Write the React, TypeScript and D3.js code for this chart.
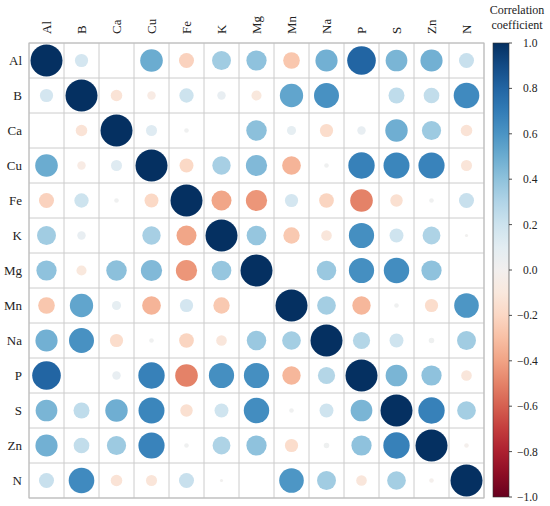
import * as d3 from "d3";
import React from "react";

// variable names, same order for rows and columns
const variables = ["Al", "B", "Ca", "Cu", "Fe", "K", "Mg", "Mn", "Na", "P", "S", "Zn", "N"];

// upper triangle of the correlation matrix (row i, columns i+1..n-1)
const upperAl = [0.17, 0.0, 0.5, -0.22, 0.35, 0.4, -0.27, 0.48, 0.8, 0.46, 0.48, 0.22];
const upperB = [-0.13, -0.07, 0.2, 0.07, -0.1, 0.53, 0.61, 0.0, 0.25, 0.24, 0.64];
const upperCa = [0.12, 0.02, 0.0, 0.41, 0.08, -0.17, 0.07, 0.49, 0.36, -0.13];
const upperCu = [-0.19, 0.33, 0.44, -0.34, 0.02, 0.68, 0.66, 0.67, -0.12];
const upperFe = [-0.39, -0.44, 0.17, -0.21, -0.5, -0.15, 0.02, 0.22];
const upperK = [0.38, -0.26, -0.11, 0.62, 0.19, 0.31, 0.01];
const upperMg = [0.0, 0.37, 0.62, 0.63, 0.4, 0.0];
const upperMn = [0.34, -0.33, 0.02, -0.17, 0.59];
const upperNa = [0.29, 0.19, 0.03, 0.35];
const upperP = [0.46, 0.4, -0.11];
const upperS = [0.68, 0.34];
const upperZn = [-0.02];

const colorbarTicks = [-1, -0.8, -0.6, -0.4, -0.2, 0, 0.2, 0.4, 0.6, 0.8, 1];

const upperRows = [upperAl, upperB, upperCa, upperCu, upperFe, upperK, upperMg, upperMn, upperNa, upperP, upperS, upperZn, []];

const n = variables.length;
const matrix: number[][] = variables.map((_, i) =>
  variables.map((_, j) => {
    if (i === j) return 1;
    return i < j ? upperRows[i][j - i - 1] : upperRows[j][i - j - 1];
  })
);

const cells = matrix.flatMap((row, i) => row.map((v, j) => ({ i, j, v })));

const W = 550;
const H = 506;
const gridLeft = 29;
const gridTop = 43;
const gridSize = 455;
const textStyle = { fontFamily: "Liberation Serif, DejaVu Serif, serif", fill: "#222" };

export default function App() {
  const x = d3.scaleBand<number>().domain(d3.range(n)).range([gridLeft, gridLeft + gridSize]);
  const y = d3.scaleBand<number>().domain(d3.range(n)).range([gridTop, gridTop + gridSize]);
  const color = (v: number) => d3.interpolateRdBu((v + 1) / 2);
  const r = d3.scaleSqrt().domain([0, 1]).range([0, 16]);

  const cbX = 493;
  const cbW = 16;
  const cbY = d3.scaleLinear().domain([-1, 1]).range([gridTop + gridSize - 1, gridTop]);
  const stops = d3.range(0, 1.0001, 0.05);
  const fmt = d3.format(".1f");

  return (
    <svg width={W} height={H} style={{ position: "absolute", left: 0, top: 0, background: "#fff" }}>
      <defs>
        <linearGradient id="cb" x1="0" y1="1" x2="0" y2="0">
          {stops.map((t) => (
            <stop key={t} offset={t} stopColor={d3.interpolateRdBu(t)} />
          ))}
        </linearGradient>
      </defs>

      {/* grid */}
      {d3.range(n + 1).map((k) => (
        <React.Fragment key={k}>
          <line x1={gridLeft + (k * gridSize) / n} x2={gridLeft + (k * gridSize) / n} y1={gridTop} y2={gridTop + gridSize}
            stroke="#cccccc" strokeWidth={1} />
          <line y1={gridTop + (k * gridSize) / n} y2={gridTop + (k * gridSize) / n} x1={gridLeft} x2={gridLeft + gridSize}
            stroke="#cccccc" strokeWidth={1} />
        </React.Fragment>
      ))}
      <rect x={gridLeft} y={gridTop} width={gridSize} height={gridSize} fill="none" stroke="#bbbbbb" strokeWidth={1} />

      {/* circles */}
      {cells.map((c) => (
        <circle key={`${c.i}-${c.j}`} cx={x(c.j)! + x.bandwidth() / 2} cy={y(c.i)! + y.bandwidth() / 2}
          r={r(Math.abs(c.v))} fill={color(c.v)} />
      ))}

      {/* row labels */}
      {variables.map((name, i) => (
        <text key={"r" + name} x={22} y={y(i)! + y.bandwidth() / 2} dy="0.35em" textAnchor="end"
          style={{ ...textStyle, fontSize: 13 }}>{name}</text>
      ))}

      {/* column labels */}
      {variables.map((name, j) => (
        <text key={"c" + name} transform={`translate(${x(j)! + x.bandwidth() / 2 + 4},${gridTop - 9}) rotate(-90)`}
          textAnchor="start" style={{ ...textStyle, fontSize: 13 }}>{name}</text>
      ))}

      {/* colorbar */}
      <rect x={cbX} y={gridTop} width={cbW} height={gridSize - 1} fill="url(#cb)" stroke="#333" strokeWidth={0.6} />
      {colorbarTicks.map((t) => (
        <React.Fragment key={t}>
          <line x1={cbX + cbW} x2={cbX + cbW + 3} y1={cbY(t)} y2={cbY(t)} stroke="#222" strokeWidth={0.8} />
          <text x={t < 0 ? 517 : 523} y={cbY(t)} dy="0.35em" style={{ ...textStyle, fontSize: 11.5 }}>{fmt(t)}</text>
        </React.Fragment>
      ))}
      <text x={517} y={14} textAnchor="middle" style={{ ...textStyle, fontSize: 12 }}>Correlation</text>
      <text x={517} y={29} textAnchor="middle" style={{ ...textStyle, fontSize: 12 }}>coefficient</text>
    </svg>
  );
}
